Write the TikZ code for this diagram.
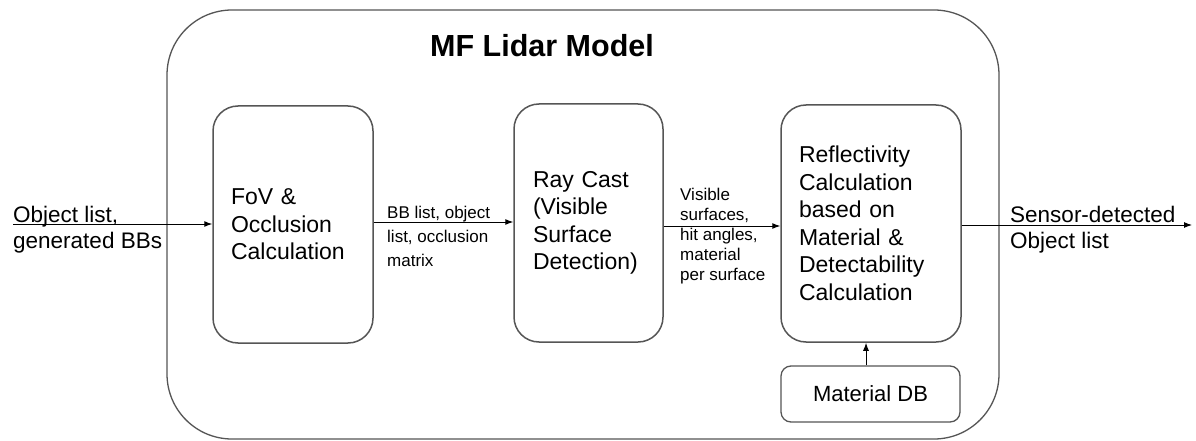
\documentclass[tikz,border=0pt]{standalone}
\usepackage{fontspec}
\setmainfont{Liberation Sans}
\usetikzlibrary{arrows.meta}
\definecolor{boxline}{HTML}{555555}
\begin{document}
\begin{tikzpicture}[x=1pt,y=-1pt,
  blockbox/.style={draw=boxline,line width=1.5pt,rounded corners=25pt,inner sep=0pt,
    font=\fontsize{23}{27.5}\selectfont,align=left},
  smalllabel/.style={inner sep=0pt,anchor=base west,align=left,font=\fontsize{17}{24}\selectfont},
  biglabel/.style={inner sep=0pt,anchor=base west,align=left,font=\fontsize{22.5}{26}\selectfont},
  flow/.style={draw=black,line width=1pt,-{Latex[length=8pt,width=6pt]}}]
\useasboundingbox (0,0) rectangle (1196,441);
\fill[white] (0,0) rectangle (1196,441);
% outer model box
\node[draw=boxline,line width=1.3pt,rounded corners=65pt,minimum width=832pt,minimum height=429pt,inner sep=0pt] (model) at (583,224.5) {};
\node[font=\fontsize{30.5}{36}\bfseries\selectfont,anchor=base,inner sep=0pt] (title) at (542,57) {MF Lidar Model};
% blocks
\node[blockbox,minimum width=160pt,minimum height=237pt,text width=124pt] (fov) at (293,224.5)
  {FoV \&\\Occlusion\\Calculation};
\node[blockbox,minimum width=149pt,minimum height=238pt,text width=111pt] (ray) at (588.5,223)
  {Ray Cast\\(Visible\\Surface\\Detection)};
\node[blockbox,minimum width=180pt,minimum height=237pt,text width=144pt] (refl) at (871,223.5)
  {Reflectivity\\Calculation\\based on\\Material \&\\Detectability\\Calculation};
\node[draw=boxline,line width=1.3pt,rounded corners=10pt,minimum width=179pt,minimum height=56pt,inner sep=0pt,
  font=\fontsize{22}{26}\selectfont] (db) at (870.5,394) {Material DB};
% external labels (base anchor = last line)
\node[biglabel] (inlabel) at (13,248) {Object list,\\generated BBs};
\node[biglabel] (outlabel) at (1010,248) {Sensor-detected\\Object list};
\node[smalllabel] (bblabel) at (387,266) {BB list, object\\list, occlusion\\matrix};
\node[smalllabel,font=\fontsize{17}{20}\selectfont] (vislabel) at (680,280) {Visible\\surfaces,\\hit angles,\\material\\per surface};
% connectors
\coordinate (inpt) at (13,224);
\coordinate (outpt) at (1192,225);
\draw[flow] (inpt) -- (fov.west |- inpt);
\draw[flow] ([yshift=2.5pt]fov.east) -- ([yshift=1pt]ray.west);
\draw[flow] ([yshift=-3pt]ray.east) -- ([yshift=-2.5pt]refl.west);
\draw[flow] (refl.east |- outpt) -- (outpt);
\draw[flow] ([xshift=-4.5pt]db.north) -- ([xshift=-4.5pt]db.north |- refl.south);
\end{tikzpicture}
\end{document}
